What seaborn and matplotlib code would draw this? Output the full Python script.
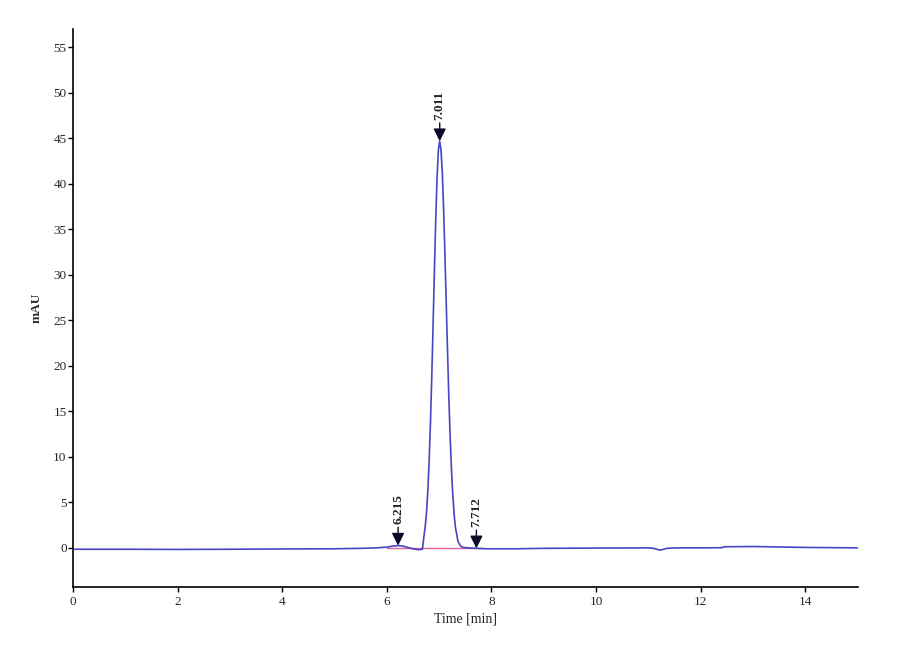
import numpy as np
import pandas as pd
import matplotlib
matplotlib.use('Agg')
import matplotlib.pyplot as plt
import seaborn as sns

sns.set_theme(style='ticks')
plt.rcParams['font.family'] = ['Liberation Serif', 'DejaVu Serif']

# Kromatogram verisi
time_min = [0.0, 1.0, 2.0, 3.0, 4.0, 5.0, 5.5, 5.8, 6.0, 6.1, 6.215, 6.3, 6.4, 6.5, 6.6, 6.68,
            6.710, 6.735, 6.760, 6.785, 6.810, 6.835, 6.860, 6.885, 6.910, 6.935, 6.960, 6.985,
            7.010, 7.035, 7.060, 7.085, 7.110, 7.135, 7.160, 7.185, 7.210, 7.235, 7.260, 7.285,
            7.310, 7.360, 7.410, 7.460, 7.560, 7.712, 7.9, 8.5, 9.0, 10.0, 11.0, 11.1, 11.2,
            11.25, 11.35, 11.5, 12.0, 12.4, 12.45, 13.0, 14.0, 15.0]
signal_mau = [-0.15, -0.15, -0.17, -0.15, -0.12, -0.1, -0.05, 0.0, 0.08, 0.18, 0.25, 0.2, 0.05, -0.1, -0.2, -0.15,
              1.3, 2.4, 4.0, 6.4, 9.7, 13.9, 19.0, 24.7, 30.6, 36.1, 40.7, 43.7,
              44.7, 43.8, 41.3, 37.3, 32.4, 27.0, 21.7, 16.6, 12.3, 8.7, 5.9, 3.8,
              2.3, 0.7, 0.2, 0.05, 0.0, -0.05, -0.1, -0.1, -0.05, -0.02, 0.0, -0.05, -0.22,
              -0.22, -0.05, 0.0, 0.0, 0.02, 0.12, 0.15, 0.05, 0.0]

# Entegrasyon taban çizgisi
base_t = [6.0, 7.85]
base_v = [-0.02, -0.02]

# Pik etiketleri
peak_labels = ['6.215', '7.011', '7.712']
peak_times = [6.215, 7.011, 7.712]
peak_heights = [0.25, 44.7, -0.05]

x_ticks = [0, 2, 4, 6, 8, 10, 12, 14]
y_ticks = [0, 5, 10, 15, 20, 25, 30, 35, 40, 45, 50, 55]

df = pd.DataFrame({'Time': time_min, 'mAU': signal_mau})

fig = plt.figure(figsize=(9, 6.6), dpi=100)
ax = fig.add_axes([0.081, 0.1106, 0.872, 0.845])

ax.plot(base_t, base_v, color='#e8609c', linewidth=1.0, zorder=2)
sns.lineplot(data=df, x='Time', y='mAU', ax=ax, color='#4646c4', linewidth=1.2, sort=False, zorder=3)

for lab, t, h in zip(peak_labels, peak_times, peak_heights):
    ax.annotate(lab, xy=(t, h), xytext=(0, 15.5), textcoords='offset points',
                rotation=90, ha='center', va='bottom', fontsize=9.5, fontweight='bold',
                color='#222222',
                arrowprops=dict(arrowstyle='-|>', color='#0a0a28', lw=1.0,
                                mutation_scale=19, shrinkA=0, shrinkB=0),
                zorder=4)

ax.set_xlim(0, 15)
ax.set_ylim(-4.3, 57)
ax.set_xticks(x_ticks)
ax.set_yticks(y_ticks)
ax.set_xlabel('Time [min]', fontsize=10, labelpad=3)
ax.set_ylabel('mAU', fontsize=9.5, fontweight='bold', labelpad=8)
ax.tick_params(axis='both', labelsize=9.5, length=3.5, width=1.0, color='black', pad=3)
ax.tick_params(axis='y', pad=1)
for s in ['left', 'bottom']:
    ax.spines[s].set_linewidth(1.2)
    ax.spines[s].set_color('black')
sns.despine(ax=ax)
ax.grid(False)

plt.savefig('out.png', dpi=100)
plt.close()
